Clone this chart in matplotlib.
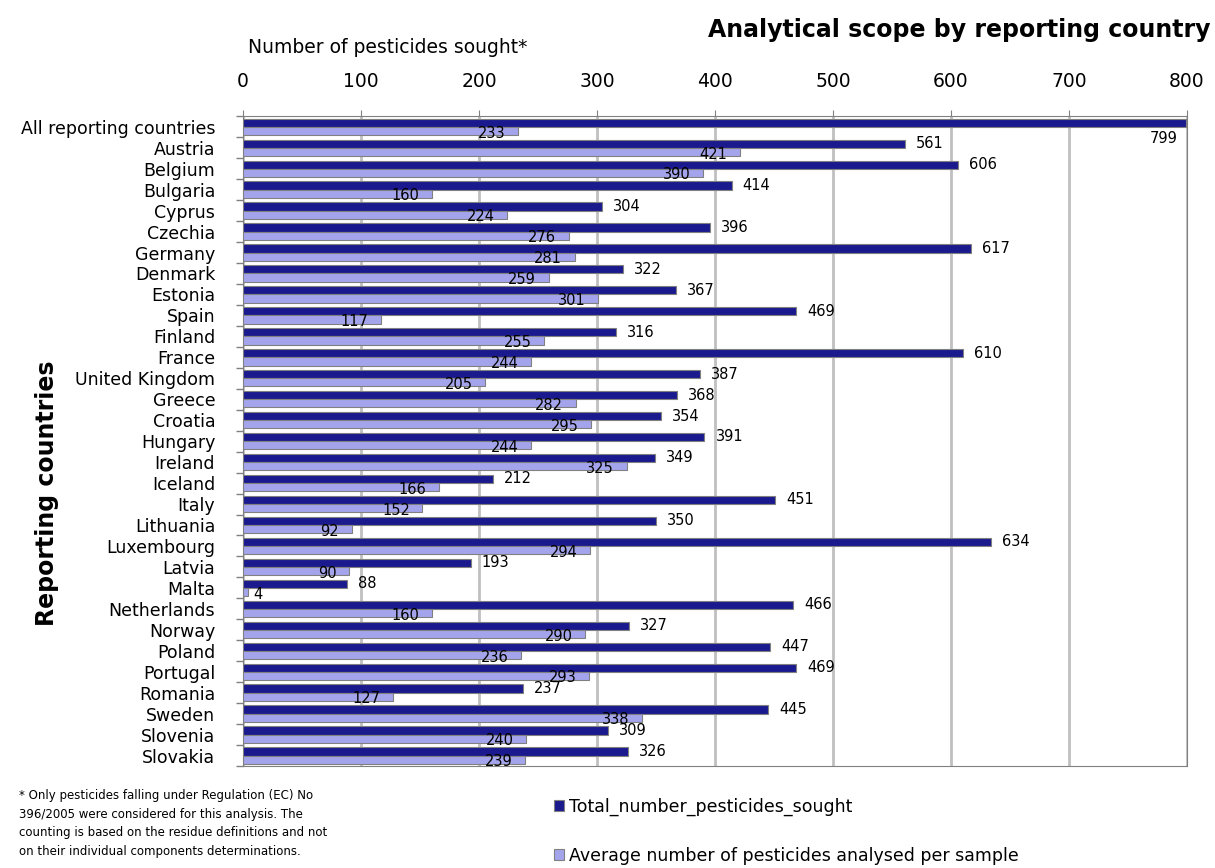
import numpy as np
import matplotlib.pyplot as plt
from matplotlib.ticker import FixedLocator

# data
countries = ['All reporting countries', 'Austria', 'Belgium', 'Bulgaria', 'Cyprus', 'Czechia',
             'Germany', 'Denmark', 'Estonia', 'Spain', 'Finland', 'France', 'United Kingdom',
             'Greece', 'Croatia', 'Hungary', 'Ireland', 'Iceland', 'Italy', 'Lithuania',
             'Luxembourg', 'Latvia', 'Malta', 'Netherlands', 'Norway', 'Poland', 'Portugal',
             'Romania', 'Sweden', 'Slovenia', 'Slovakia']
total_sought = [799, 561, 606, 414, 304, 396, 617, 322, 367, 469, 316, 610, 387, 368, 354,
                391, 349, 212, 451, 350, 634, 193, 88, 466, 327, 447, 469, 237, 445, 309, 326]
avg_per_sample = [233, 421, 390, 160, 224, 276, 281, 259, 301, 117, 255, 244, 205, 282, 295,
                  244, 325, 166, 152, 92, 294, 90, 4, 160, 290, 236, 293, 127, 338, 240, 239]

dark = '#1a1a8e'
light = '#a4a4ec'
edge = '#808080'

plt.rcParams['font.family'] = ['DejaVu Sans']

fig = plt.figure(figsize=(12.15, 8.68), dpi=100)
ax = fig.add_axes([0.2, 0.1175, 0.777, 0.7485])

y = np.arange(len(countries))
h = 0.39
ax.barh(y - 0.195, total_sought, height=h, color=dark, edgecolor=edge, linewidth=0.8,
        label='Total_number_pesticides_sought', zorder=3)
ax.barh(y + 0.195, avg_per_sample, height=h, color=light, edgecolor=edge, linewidth=0.8,
        label='Average number of pesticides analysed per sample', zorder=3)

# value labels: dark ones right of the bar, light ones just inside the bar end
for i, v in enumerate(total_sought):
    if v > 760:
        ax.annotate(str(v), (v, i + 0.2), xytext=(-6, 0), textcoords='offset points',
                    ha='right', va='top', fontsize=10.5)
    else:
        ax.annotate(str(v), (v, i - 0.2), xytext=(8, 0), textcoords='offset points',
                    ha='left', va='center', fontsize=10.5)

for i, v in enumerate(avg_per_sample):
    if v < 30:
        ax.annotate(str(v), (v, i + 0.3), xytext=(4, 0), textcoords='offset points',
                    ha='left', va='center', fontsize=10.5)
    else:
        ax.annotate(str(v), (v, i + 0.3), xytext=(-9, 0), textcoords='offset points',
                    ha='right', va='center', fontsize=10.5)

ax.set_xlim(0, 800)
ax.set_ylim(len(countries) - 0.5, -0.5)
ax.set_xticks(np.arange(0, 801, 100))
ax.xaxis.tick_top()
ax.tick_params(axis='x', labelsize=13.5, length=4, color=edge, pad=14)
ax.set_yticks(y)
ax.set_yticklabels(countries, fontsize=12.5)
ax.tick_params(axis='y', which='major', length=0, pad=20)
ax.yaxis.set_minor_locator(FixedLocator(np.arange(-0.5, len(countries), 1)))
ax.tick_params(axis='y', which='minor', length=5, color=edge, width=1)
ax.grid(axis='x', color='#c0c0c0', linewidth=2, zorder=0)
for s in ax.spines.values():
    s.set_color(edge)
ax.set_axisbelow(True)

ax.set_ylabel('Reporting countries', fontsize=17, fontweight='bold')
ax.yaxis.set_label_coords(-0.195, 0.42)
fig.text(0.204, 0.945, 'Number of pesticides sought*', fontsize=13.5, ha='left', va='center')
fig.text(0.996, 0.965, 'Analytical scope by reporting country', fontsize=17,
         fontweight='bold', ha='right', va='center')

fig.legend(loc='lower left', bbox_to_anchor=(0.443, -0.014), frameon=False, fontsize=12.5,
           handlelength=0.6, handleheight=0.6, handletextpad=0.3, labelspacing=1.75)

fig.text(0.016, 0.012,
         '* Only pesticides falling under Regulation (EC) No\n'
         '396/2005 were considered for this analysis. The\n'
         'counting is based on the residue definitions and not\n'
         'on their individual components determinations.',
         fontsize=8.5, ha='left', va='bottom', linespacing=1.55)

fig.savefig('out.png', dpi=100)
